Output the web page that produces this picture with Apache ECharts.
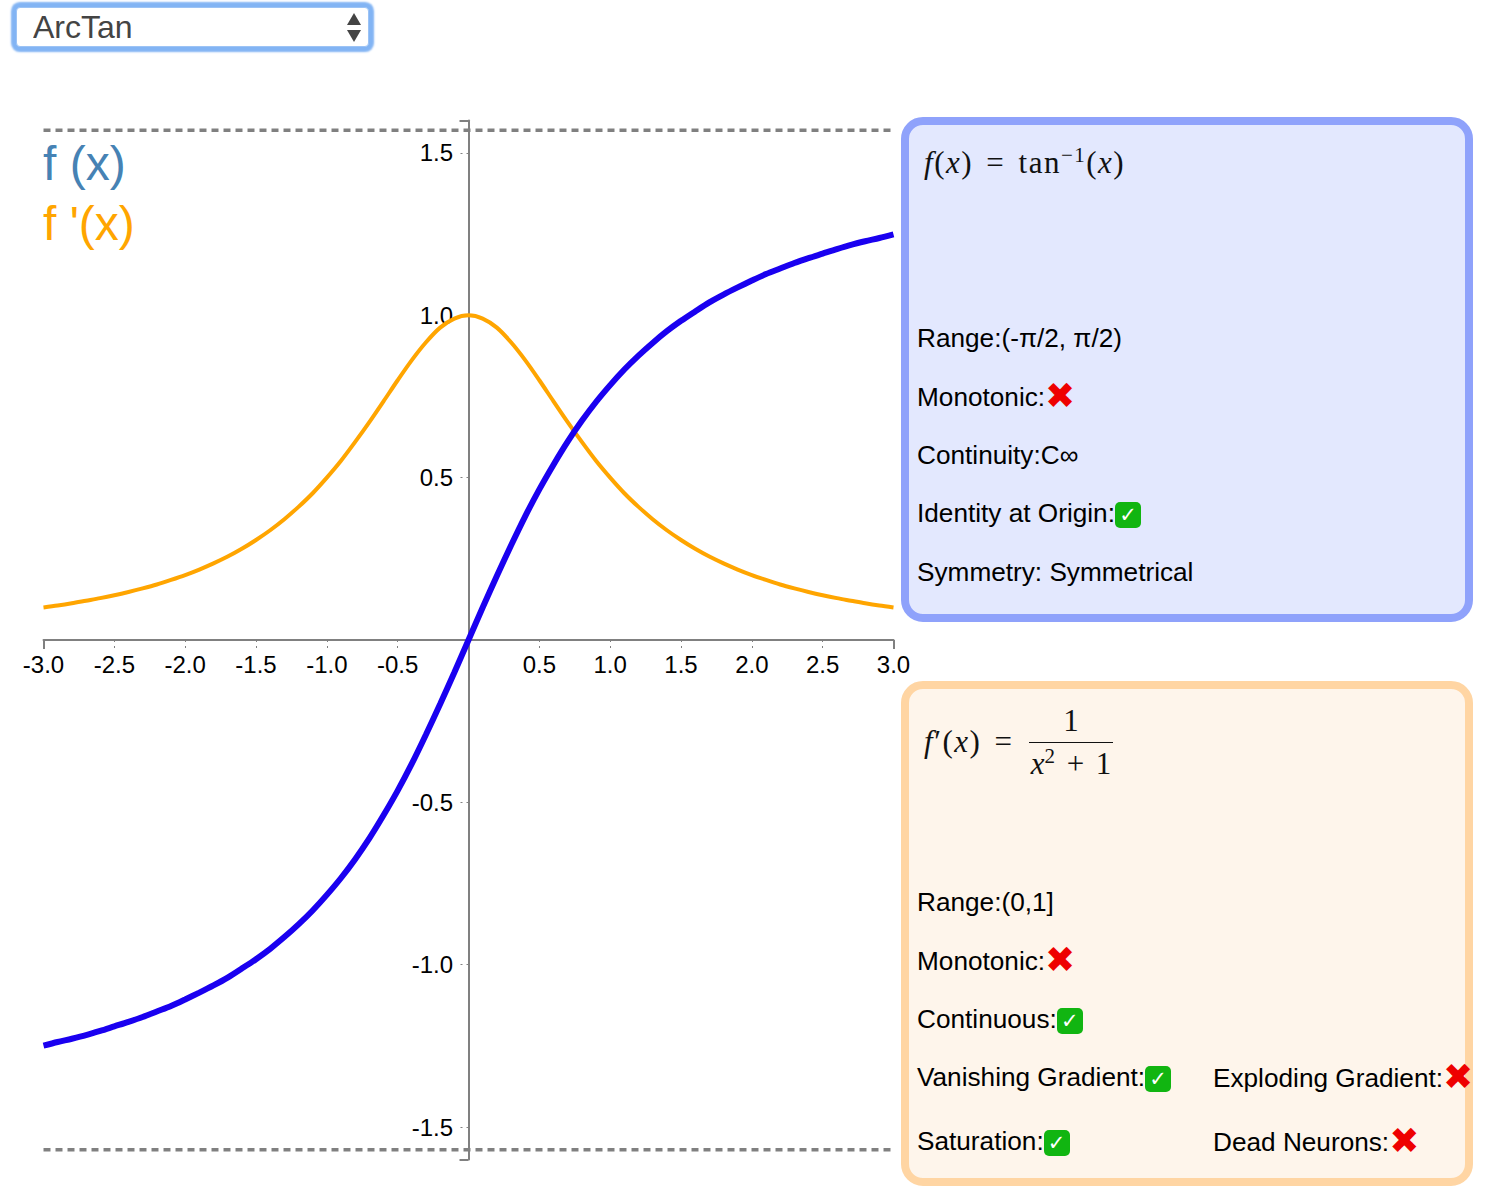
<!DOCTYPE html>
<html>
<head>
<meta charset="utf-8">
<style>
  html, body { margin: 0; padding: 0; background: #fff; }
  body { width: 1496px; height: 1200px; position: relative; overflow: hidden; font-family: "Liberation Sans", sans-serif; color: #000; }
  #charts { position: absolute; left: 0; top: 0; width: 1496px; height: 1200px; }
  select {
    position: absolute; left: 16px; top: 7px; width: 353px; height: 40px; box-sizing: border-box;
    appearance: none; -webkit-appearance: none; outline: none; padding: 0 0 0 16px;
    font: 32px "Liberation Sans", sans-serif; color: #444; border: 1px solid #9cc3f5; border-radius: 4px;
    box-shadow: 0 0 2px 5px #82b4f4; background: #fff;
  }
  .arrows { position: absolute; left: 347px; top: 13px; width: 0; height: 0; }
  .arrows i { position: absolute; left: 0; width: 0; height: 0; border-left: 7.5px solid transparent; border-right: 7.5px solid transparent; }
  .arrows i.up { top: 0; border-bottom: 12px solid #444; }
  .arrows i.down { top: 17px; border-top: 12px solid #444; }
  .panel { position: absolute; left: 901px; width: 572px; height: 505px; box-sizing: border-box; border-width: 8px; border-style: solid; border-radius: 22px; }
  .panel.fn { top: 117px; border-color: #8fa2fb; background: #e3e8fe; }
  .panel.dn { top: 681px; border-color: #ffd5a3; background: #fef5eb; }
  .row { position: absolute; font-size: 26.2px; line-height: 32px; height: 32px; white-space: nowrap; }
  .no { color: #ee0000; font-family: "DejaVu Sans"; font-size: 36px; line-height: 32px; display: inline-block; width: 28px; text-align: center; vertical-align: -2px; }
  .yes { display: inline-block; width: 26px; height: 26px; border-radius: 5px; background: #11b511; color: #fff; font-family: "DejaVu Sans"; font-size: 21px; line-height: 26px; text-align: center; vertical-align: 0; }
  .math { position: absolute; font-family: "Liberation Serif", serif; font-size: 31px; line-height: 36px; white-space: nowrap; color: #111; word-spacing: 4px; letter-spacing: 1.5px; }
  .math sup { font-size: 21px; line-height: 0; }
  .frac { position: absolute; left: 105px; top: -26px; width: 84px; text-align: center; letter-spacing: 0; word-spacing: 4px; }
  .frac div:first-child { border-bottom: 1.5px solid #111; height: 44px; line-height: 46px; }
  .frac div:last-child { line-height: 42px; }
</style>
</head>
<body>
<div id="charts"></div>

<select><option>ArcTan</option></select>
<div class="arrows"><i class="up"></i><i class="down"></i></div>

<div class="panel fn">
  <div class="math" style="left:15px;top:20px"><i>f</i>(<i>x</i>) = tan<sup>−1</sup>(<i>x</i>)</div>
  <div class="row" style="left:8px;top:197px">Range:(-π/2, π/2)</div>
  <div class="row" style="left:8px;top:255px">Monotonic:<span class="no">✖</span></div>
  <div class="row" style="left:8px;top:314px">Continuity:C∞</div>
  <div class="row" style="left:8px;top:372px">Identity at Origin:<span class="yes">✓</span></div>
  <div class="row" style="left:8px;top:431px">Symmetry: Symmetrical</div>
</div>

<div class="panel dn">
  <div class="math" style="left:15px;top:35px"><i>f</i>′(<i>x</i>) =
    <div class="frac"><div>1</div><div><i>x</i><sup>2</sup> + 1</div></div>
  </div>
  <div class="row" style="left:8px;top:197px">Range:(0,1]</div>
  <div class="row" style="left:8px;top:255px">Monotonic:<span class="no">✖</span></div>
  <div class="row" style="left:8px;top:314px">Continuous:<span class="yes">✓</span></div>
  <div class="row" style="left:8px;top:372px">Vanishing Gradient:<span class="yes">✓</span></div>
  <div class="row" style="left:304px;top:372px">Exploding Gradient:<span class="no">✖</span></div>
  <div class="row" style="left:8px;top:436px">Saturation:<span class="yes">✓</span></div>
  <div class="row" style="left:304px;top:436px">Dead Neurons:<span class="no">✖</span></div>
</div>

<script src="https://cdn.jsdelivr.net/npm/echarts@6/dist/echarts.min.js"></script>
<script>
// every 0.1 on x
const xValues = [-3.0, -2.9, -2.8, -2.7, -2.6, -2.5, -2.4, -2.3, -2.2, -2.1, -2.0, -1.9, -1.8, -1.7, -1.6, -1.5, -1.4, -1.3, -1.2, -1.1, -1.0, -0.9, -0.8, -0.7, -0.6, -0.5, -0.4, -0.3, -0.2, -0.1, 0, 0.1, 0.2, 0.3, 0.4, 0.5, 0.6, 0.7, 0.8, 0.9, 1.0, 1.1, 1.2, 1.3, 1.4, 1.5, 1.6, 1.7, 1.8, 1.9, 2.0, 2.1, 2.2, 2.3, 2.4, 2.5, 2.6, 2.7, 2.8, 2.9, 3.0]
const fValues = [-1.249, -1.238, -1.228, -1.217, -1.204, -1.190, -1.176, -1.161, -1.144, -1.127, -1.107, -1.086, -1.064, -1.040, -1.012, -0.983, -0.951, -0.915, -0.876, -0.833, -0.785, -0.733, -0.675, -0.611, -0.540, -0.464, -0.381, -0.291, -0.197, -0.100, 0, 0.100, 0.197, 0.291, 0.381, 0.464, 0.540, 0.611, 0.675, 0.733, 0.785, 0.833, 0.876, 0.915, 0.951, 0.983, 1.012, 1.040, 1.064, 1.086, 1.107, 1.127, 1.144, 1.161, 1.176, 1.190, 1.204, 1.217, 1.228, 1.238, 1.249]
const dfValues = [0.100, 0.106, 0.113, 0.121, 0.129, 0.138, 0.148, 0.159, 0.171, 0.185, 0.200, 0.217, 0.236, 0.257, 0.281, 0.308, 0.338, 0.372, 0.410, 0.452, 0.500, 0.552, 0.610, 0.671, 0.735, 0.800, 0.862, 0.917, 0.962, 0.990, 1.000, 0.990, 0.962, 0.917, 0.862, 0.800, 0.735, 0.671, 0.610, 0.552, 0.500, 0.452, 0.410, 0.372, 0.338, 0.308, 0.281, 0.257, 0.236, 0.217, 0.200, 0.185, 0.171, 0.159, 0.148, 0.138, 0.129, 0.121, 0.113, 0.106, 0.100]

const xTicks = [-3.0, -2.5, -2.0, -1.5, -1.0, -0.5, 0.5, 1.0, 1.5, 2.0, 2.5, 3.0]
const xInnerTicks = [-2.5, -2.0, -1.5, -1.0, -0.5, 0.5, 1.0, 1.5, 2.0, 2.5]
const xEnds = [-3, 3]
const yTicks = [-1.5, -1.0, -0.5, 0.5, 1.0, 1.5]
const yEnds = [-1.6, 1.6]
const asymptotes = [1.57, -1.57]
const xRange = [-3, 3]

const FONT = '"Liberation Sans", sans-serif'
const GREY = '#808080'

const zip = (xs, ys) => xs.map((x, i) => [x, ys[i]])

const asymptoteSeries = y => ({
	type: 'line',
	data: xRange.map(x => [x, y]),
	symbol: 'none',
	silent: true,
	z: 4,
	lineStyle: { color: GREY, width: 3.5, type: [7, 5] }
})

const chart = echarts.init(document.getElementById('charts'), null, { renderer: 'svg' })

chart.setOption({
	animation: false,
	grid: { left: 43.5, right: 602.5, top: 120.5, bottom: 40.5, outerBoundsMode: 'none' },
	legend: {
		left: 38,
		top: 139,
		orient: 'vertical',
		padding: 0,
		itemWidth: 0,
		itemHeight: 0,
		itemGap: 12,
		icon: 'none',
		selectedMode: false,
		textStyle: { fontFamily: FONT, fontSize: 48 },
		data: [
			{ name: 'f (x)', textStyle: { color: '#4682b4' } },
			{ name: "f '(x)", textStyle: { color: '#ffa500' } }
		]
	},
	xAxis: [
		{
			type: 'value',
			min: -3,
			max: 3,
			splitLine: { show: false },
			axisLine: { onZero: true, lineStyle: { color: GREY, width: 2 } },
			axisTick: { customValues: xInnerTicks, length: 8, lineStyle: { color: GREY, width: 1, type: [2, 4] } },
			axisLabel: {
				customValues: xTicks,
				// labels stay at the grid edge with onZero, pull them back up to the zero line
				margin: -507.5,
				color: '#000',
				fontFamily: FONT,
				fontSize: 24,
				formatter: v => v.toFixed(1)
			}
		},
		{
			type: 'value',
			min: -3,
			max: 3,
			position: 'bottom',
			splitLine: { show: false },
			axisLine: { show: false, onZero: true },
			axisTick: { customValues: xEnds, length: 9, lineStyle: { color: GREY, width: 2 } },
			axisLabel: { show: false }
		}
	],
	yAxis: [
		{
			type: 'value',
			min: -1.6,
			max: 1.6,
			splitLine: { show: false },
			axisLine: { onZero: true, lineStyle: { color: GREY, width: 2 } },
			axisTick: { customValues: yTicks, length: 8, lineStyle: { color: GREY, width: 1, type: [2, 4] } },
			axisLabel: {
				customValues: yTicks,
				margin: -409.5,
				color: '#000',
				fontFamily: FONT,
				fontSize: 24,
				formatter: v => v.toFixed(1)
			}
		},
		{
			type: 'value',
			min: -1.6,
			max: 1.6,
			position: 'left',
			splitLine: { show: false },
			axisLine: { show: false, onZero: true },
			axisTick: { customValues: yEnds, length: 9, lineStyle: { color: GREY, width: 2 } },
			axisLabel: { show: false }
		}
	],
	series: [
		asymptoteSeries(asymptotes[0]),
		asymptoteSeries(asymptotes[1]),
		{
			name: "f '(x)",
			type: 'line',
			data: zip(xValues, dfValues),
			symbol: 'none',
			smooth: 0.3,
			z: 5,
			lineStyle: { color: '#ffa500', width: 4 }
		},
		{
			name: 'f (x)',
			type: 'line',
			data: zip(xValues, fValues),
			symbol: 'none',
			smooth: 0.3,
			z: 6,
			lineStyle: { color: '#1a00f0', width: 6 }
		}
	]
})
</script>
</body>
</html>
